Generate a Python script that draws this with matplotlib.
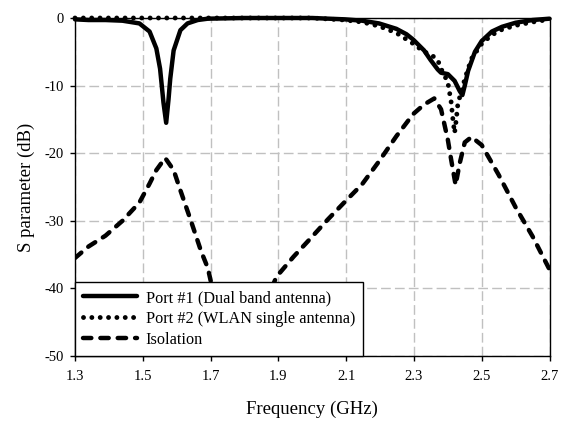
import matplotlib
matplotlib.use("Agg")
import matplotlib.pyplot as plt
import numpy as np

plt.rcParams['font.family'] = ['Liberation Serif', 'DejaVu Serif']
plt.rcParams['axes.unicode_minus'] = False
plt.rcParams['lines.scale_dashes'] = False

# Port #1 (dual band antenna)
f1 = [1.30, 1.34, 1.39, 1.44, 1.49, 1.52, 1.54, 1.551, 1.561, 1.569, 1.576, 1.581, 1.591,
      1.611, 1.632, 1.662, 1.692, 1.80, 1.90, 2.00, 2.096, 2.147, 2.197, 2.248, 2.278, 2.298,
      2.33, 2.349, 2.37, 2.38, 2.40, 2.42, 2.435, 2.443, 2.45, 2.46, 2.48, 2.50, 2.53,
      2.56, 2.60, 2.65, 2.70]
s1 = [-0.2, -0.3, -0.3, -0.4, -0.8, -2.0, -4.5, -7.5, -12.5, -15.5, -12.0, -9.0, -4.8,
      -1.8, -0.8, -0.3, -0.1, 0.0, 0.0, 0.0, -0.2, -0.4, -0.8, -1.6, -2.4, -3.2,
      -4.8, -6.2, -7.6, -8.1, -8.3, -9.3, -10.8, -11.4, -10.0, -7.8, -5.0, -3.4, -2.0,
      -1.3, -0.7, -0.3, -0.1]

# Port #2 (WLAN single antenna)
f2 = [1.30, 1.40, 1.50, 1.60, 1.70, 1.80, 1.90, 2.00, 2.096, 2.147, 2.197, 2.248, 2.298,
      2.33, 2.35, 2.37, 2.38, 2.39, 2.40, 2.41, 2.415, 2.42, 2.425, 2.43, 2.44, 2.45,
      2.47, 2.50, 2.53, 2.56, 2.60, 2.65, 2.70]
s2 = [0.0, 0.0, 0.0, 0.0, 0.0, 0.0, 0.0, 0.0, -0.3, -0.6, -1.2, -2.2, -3.8,
      -5.0, -5.4, -6.2, -7.5, -8.5, -9.5, -12.5, -15.0, -17.0, -15.0, -12.5, -11.0, -9.0,
      -6.0, -3.8, -2.5, -1.7, -1.1, -0.6, -0.2]

# Isolation
f3 = [1.30, 1.34, 1.39, 1.44, 1.49, 1.52, 1.54, 1.566, 1.591, 1.611, 1.642, 1.672, 1.692,
      1.712, 1.733, 1.753, 1.78, 1.808, 1.834, 1.864, 1.894, 1.945, 1.995, 2.046, 2.096, 2.147,
      2.197, 2.248, 2.298, 2.33, 2.36, 2.38, 2.40, 2.41, 2.423, 2.435, 2.45, 2.47, 2.50,
      2.55, 2.60, 2.65, 2.70]
s3 = [-35.5, -33.8, -32.2, -30.0, -27.3, -24.5, -22.5, -20.7, -22.5, -25.5, -30.0, -34.5, -37.0,
      -41.5, -46.0, -50.0, -52.0, -50.0, -46.0, -42.0, -38.3, -35.3, -32.6, -29.8, -27.2, -24.6,
      -21.2, -17.5, -14.2, -12.8, -11.9, -13.5, -18.0, -21.0, -24.7, -21.5, -18.4, -17.6, -18.8,
      -23.2, -28.0, -32.3, -37.2]

xticks = [1.3, 1.5, 1.7, 1.9, 2.1, 2.3, 2.5, 2.7]
yticks = [-50, -40, -30, -20, -10, 0]

fig = plt.figure(figsize=(5.63, 4.25), dpi=100)
# axes box: x 75..549.5 px, y 18..356 px
ax = fig.add_axes([75 / 563, 1 - 356 / 425, 474.5 / 563, 338 / 425])

ax.plot(f1, s1, color='black', lw=3.2, solid_capstyle='round', solid_joinstyle='round',
        label='Port #1 (Dual band antenna)', clip_on=False)
ax.plot(f2, s2, color='black', lw=3.5, dashes=(0.01, 6), dash_capstyle='round',
        label='Port #2 (WLAN single antenna)', clip_on=False)
ax.plot(f3, s3, color='black', lw=3.2, dashes=(6, 6.5), dash_capstyle='round',
        dash_joinstyle='round', label='Isolation')

ax.set_xlim(1.3, 2.7)
ax.set_ylim(-50, 0)
ax.set_xticks(xticks)
ax.set_xticklabels(['%.1f' % t for t in xticks])
ax.set_yticks(yticks)
ax.grid(True, color='#c0c0c0', linestyle=(0, (7, 3)), lw=1)
ax.tick_params(direction='out', length=3.6, width=1, labelsize=10.5)
ax.tick_params(axis='x', pad=6.5)
ax.tick_params(axis='y', pad=4.5)
for sp in ax.spines.values():
    sp.set_color('black')
    sp.set_linewidth(1)

ax.set_xlabel('Frequency (GHz)', fontsize=13.5, labelpad=13)
ax.set_ylabel('S parameter (dB)', fontsize=13.5, labelpad=7)

leg = ax.legend(loc='lower left', bbox_to_anchor=(0, 0), borderaxespad=0,
                fontsize=11.7, handlelength=3.3, handletextpad=0.55, fancybox=False,
                framealpha=1, edgecolor='black', borderpad=0.5, labelspacing=0.3)
leg.get_frame().set_linewidth(1)

fig.savefig('out.png', dpi=100)
